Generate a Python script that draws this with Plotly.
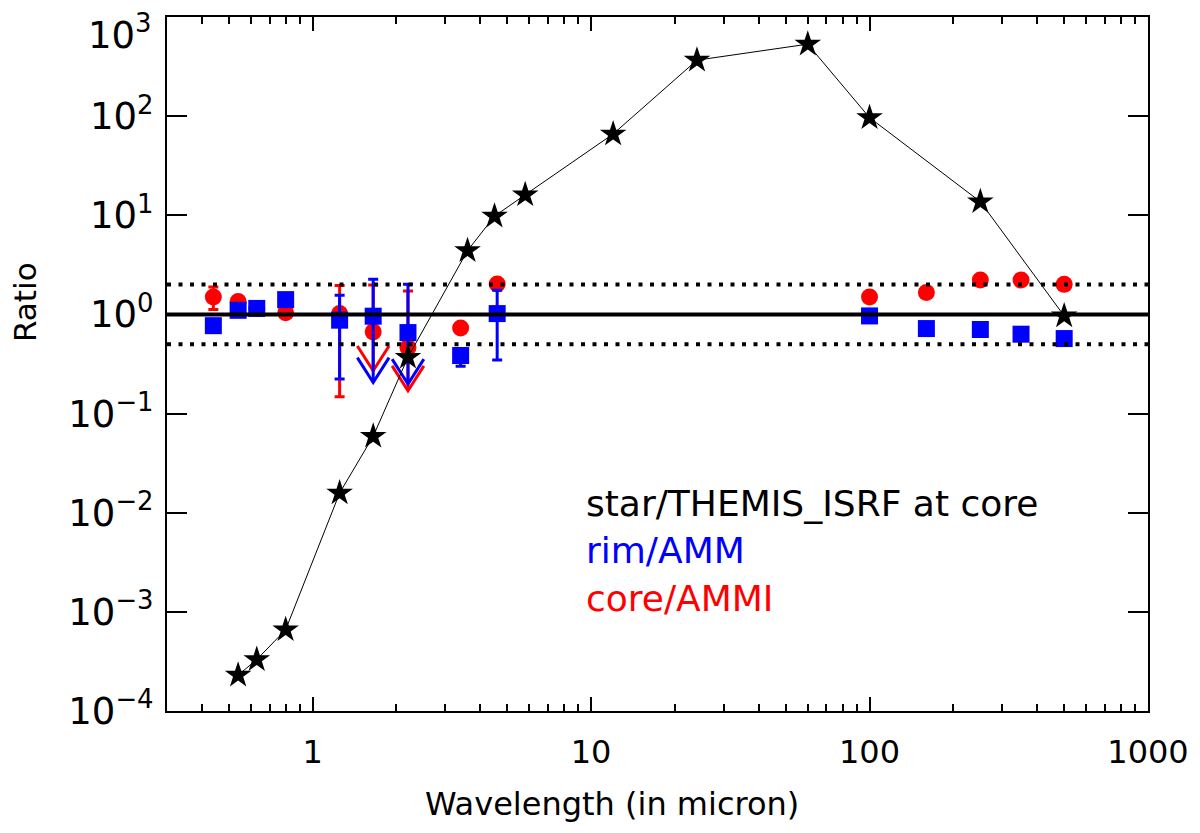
import plotly.graph_objects as go

# ---------------- data ----------------
wl_star = [0.54, 0.63, 0.80, 1.25, 1.65, 2.2, 3.6, 4.5, 5.8, 12, 24, 60, 100, 250, 500]
star_ratio = [2.3e-4, 3.3e-4, 6.6e-4, 0.0158, 0.059, 0.37, 4.4, 9.8, 16.1, 66, 367, 532, 96.6, 13.7, 0.966]

wl_pts = [0.44, 0.54, 0.63, 0.80, 1.25, 1.65, 2.2, 3.4, 4.6, 100, 160, 250, 350, 500]

core_ratio = [1.50, 1.35, 1.15, 1.04, 1.02, 0.667, 0.464, 0.73, 2.03, 1.50, 1.66, 2.22, 2.22, 2.01]
core_hi = [1.89, None, None, None, 1.96, 1.98, 1.72, None, None, None, None, None, None, None]
core_lo = [1.12, None, None, None, 0.148, 0.27, 0.170, None, None, None, None, None, None, None]
core_limit = [False, False, False, False, False, True, True, False, False, False, False, False, False, False]

rim_ratio = [0.77, 1.10, 1.15, 1.41, 0.875, 0.96, 0.656, 0.385, 1.02, 0.966, 0.72, 0.705, 0.632, 0.571]
rim_hi = [None, None, None, None, 1.56, 2.26, 2.01, 0.45, 1.75, None, None, None, None, None]
rim_lo = [None, None, None, None, 0.223, 0.206, 0.199, 0.30, 0.347, None, None, None, None, None]
rim_limit = [False, False, False, False, False, True, True, False, False, False, False, False, False, False]

ref_solid = [1.0]
ref_dotted = [0.5, 2.0]

x_ticks = [1, 10, 100, 1000]
y_tick_exp = [-4, -3, -2, -1, 0, 1, 2, 3]

labels = ["star/THEMIS_ISRF at core", "rim/AMM", "core/AMMI"]
label_colors = ["black", "#0000ff", "#ff0000"]
x_title = "Wavelength (in micron)"
y_title = "Ratio"

# ---------------- styling ----------------
FONT = "DejaVu Sans"
RED = "#ff0000"
BLUE = "#0000ff"
ARROW_DX = 1.14   # multiplicative half-width of arrow head in x (log axis)
ARROW_DY = 1.78   # multiplicative height of arrow head in y (log axis)


def err_arrays(vals, hi, lo, lim):
    plus, minus = [], []
    for v, h, l, u in zip(vals, hi, lo, lim):
        plus.append(0 if h is None else h - v)
        if u or l is None:
            minus.append(0)
        else:
            minus.append(v - l)
    return plus, minus


def limit_arrows(xs, vals, lo, lim):
    ax, ay = [], []
    for x, v, l, u in zip(xs, vals, lo, lim):
        if not u:
            continue
        ax += [x, x, None, x * ARROW_DX, x, x / ARROW_DX, None]
        ay += [v, l, None, l * ARROW_DY, l, l * ARROW_DY, None]
    return ax, ay


def sup_label(e):
    return "10<sup>%s</sup>" % str(e).replace("-", "\u2212")


fig = go.Figure()

# core (red)
cp, cm = err_arrays(core_ratio, core_hi, core_lo, core_limit)
cax, cay = limit_arrows(wl_pts, core_ratio, core_lo, core_limit)
fig.add_trace(go.Scatter(x=cax, y=cay, mode="lines", line=dict(color=RED, width=3),
                         showlegend=False, hoverinfo="skip"))
fig.add_trace(go.Scatter(
    x=wl_pts, y=core_ratio, mode="markers",
    marker=dict(symbol="circle", size=17, color=RED),
    error_y=dict(type="data", symmetric=False, array=cp, arrayminus=cm,
                 color=RED, thickness=3, width=5),
    showlegend=False))

# rim (blue)
rp, rm = err_arrays(rim_ratio, rim_hi, rim_lo, rim_limit)
rax, ray = limit_arrows(wl_pts, rim_ratio, rim_lo, rim_limit)
fig.add_trace(go.Scatter(x=rax, y=ray, mode="lines", line=dict(color=BLUE, width=3),
                         showlegend=False, hoverinfo="skip"))
fig.add_trace(go.Scatter(
    x=wl_pts, y=rim_ratio, mode="markers",
    marker=dict(symbol="square", size=17, color=BLUE),
    error_y=dict(type="data", symmetric=False, array=rp, arrayminus=rm,
                 color=BLUE, thickness=3, width=5),
    showlegend=False))

# star / ISRF
fig.add_trace(go.Scatter(
    x=wl_star, y=star_ratio, mode="lines+markers",
    line=dict(color="black", width=1),
    marker=dict(symbol="star", size=20, color="black"),
    showlegend=False))

# reference lines
for lv in ref_solid:
    fig.add_shape(type="line", xref="paper", x0=0, x1=1, yref="y", y0=lv, y1=lv,
                  line=dict(color="black", width=4), layer="above")
for lv in ref_dotted:
    fig.add_shape(type="line", xref="paper", x0=0, x1=1, yref="y", y0=lv, y1=lv,
                  line=dict(color="black", width=4, dash="4px,7.5px"), layer="above")

# labels
label_y = [0.299, 0.231, 0.162]
for txt, col, yy in zip(labels, label_colors, label_y):
    fig.add_annotation(text=txt, xref="paper", yref="paper", x=0.425, y=yy,
                       xanchor="left", yanchor="middle", showarrow=False,
                       font=dict(family=FONT, size=36, color=col))

# axis titles (placed like the original, not centred on the axes)
fig.add_annotation(text=x_title, xref="paper", yref="paper", x=0.4536, y=-0.134,
                   xanchor="center", yanchor="middle", showarrow=False,
                   font=dict(family=FONT, size=32, color="black"))
fig.add_annotation(text=y_title, xref="paper", yref="paper", x=-0.145, y=0.589,
                   xanchor="center", yanchor="middle", showarrow=False, textangle=-90,
                   font=dict(family=FONT, size=31, color="black"))

# top y tick label (sits lower than its tick, as in the original)
top_e = y_tick_exp[-1]
fig.add_annotation(text=sup_label(top_e), xref="paper", yref="paper", x=0, y=1,
                   xanchor="right", yanchor="middle", xshift=-13, yshift=-15, showarrow=False,
                   font=dict(family=FONT, size=37, color="black"))

fig.update_layout(
    width=1200, height=833,
    margin=dict(l=159, r=60, t=7, b=130),
    paper_bgcolor="white", plot_bgcolor="white",
    font=dict(family=FONT, color="black"),
)

fig.update_xaxes(
    type="log", range=[-0.523, 3.0],
    tickvals=x_ticks, ticktext=[str(v) for v in x_ticks],
    ticks="inside", ticklen=14, tickwidth=2, tickcolor="black",
    minor=dict(ticks="inside", ticklen=7, tickwidth=2, tickcolor="black", dtick="D1", showgrid=False),
    showline=True, linewidth=2, linecolor="black", mirror="ticks",
    showgrid=False, zeroline=False,
    tickfont=dict(family=FONT, size=32),
    ticklabelstandoff=12,
)

fig.update_yaxes(
    type="log", range=[-4, 3],
    tickvals=[10.0 ** e for e in y_tick_exp],
    ticktext=[sup_label(e) if e != top_e else "" for e in y_tick_exp],
    ticks="inside", ticklen=20, tickwidth=2, tickcolor="black",
    showline=True, linewidth=2, linecolor="black", mirror="ticks",
    showgrid=False, zeroline=False,
    tickfont=dict(family=FONT, size=37),
    ticklabelstandoff=4,
)

fig.write_html("out.html")
